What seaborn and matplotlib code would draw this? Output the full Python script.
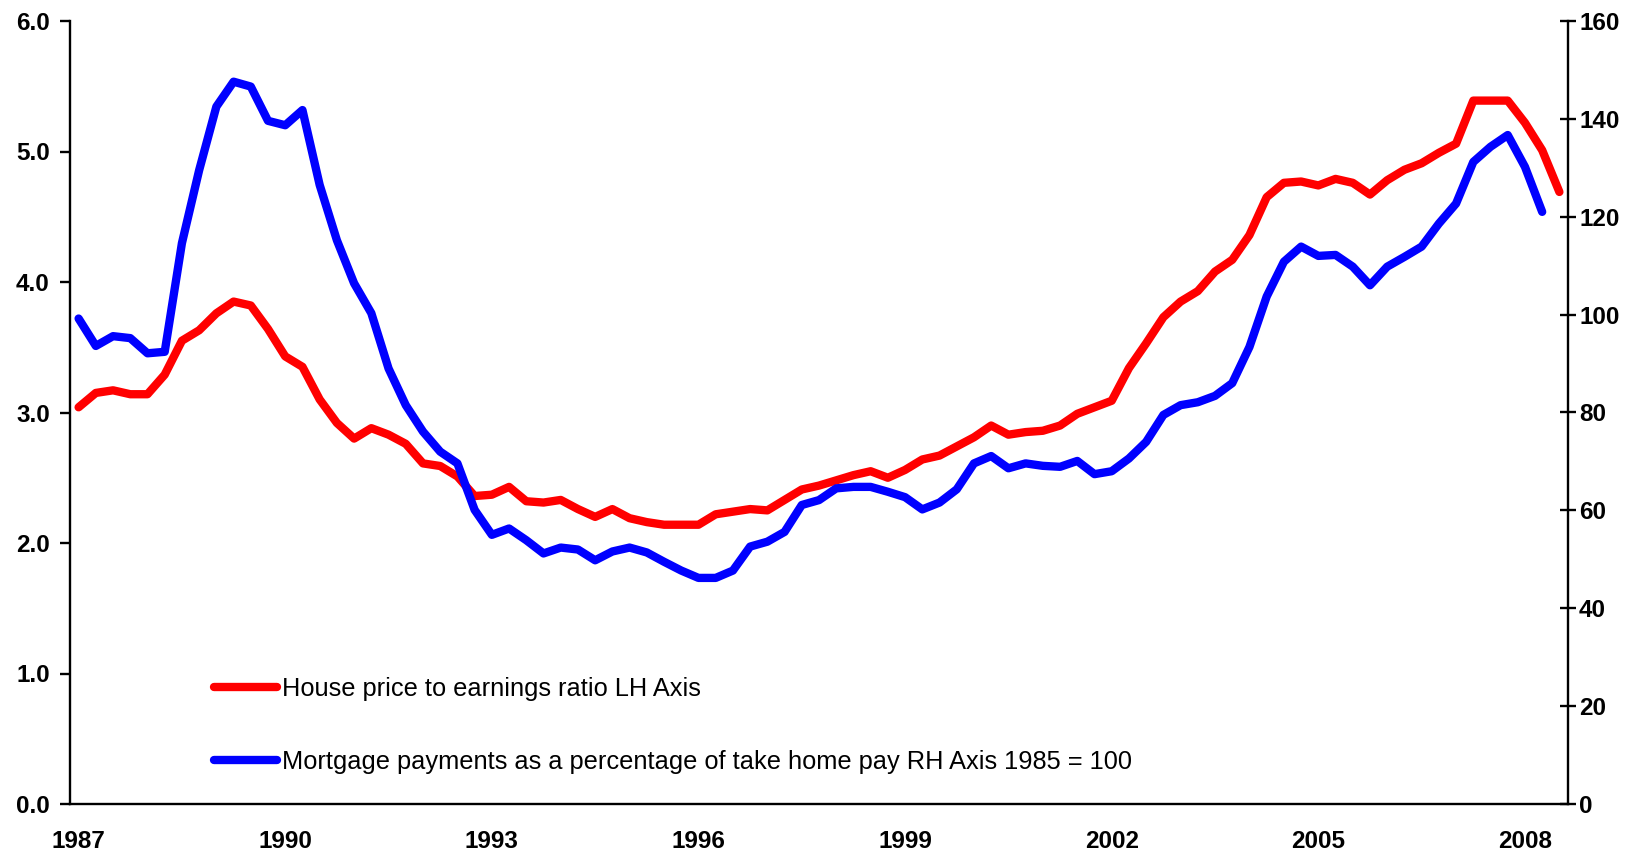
import matplotlib
matplotlib.use("Agg")
import matplotlib.pyplot as plt
import seaborn as sns
import pandas as pd
import numpy as np

# ---- data (quarterly, 1987 Q1 onwards) ----
house_price_ratio = [3.04, 3.15, 3.17, 3.14, 3.14, 3.29, 3.55, 3.63, 3.76, 3.85,
                     3.82, 3.64, 3.43, 3.35, 3.10, 2.92, 2.80, 2.88, 2.83, 2.76,
                     2.61, 2.59, 2.51, 2.36, 2.37, 2.43, 2.32, 2.31, 2.33, 2.26,
                     2.20, 2.26, 2.19, 2.16, 2.14, 2.14, 2.14, 2.22, 2.24, 2.26,
                     2.25, 2.33, 2.41, 2.44, 2.48, 2.52, 2.55, 2.50, 2.56, 2.64,
                     2.67, 2.74, 2.81, 2.90, 2.83, 2.85, 2.86, 2.90, 2.99, 3.04,
                     3.09, 3.34, 3.53, 3.73, 3.85, 3.93, 4.08, 4.17, 4.36, 4.65,
                     4.76, 4.77, 4.74, 4.79, 4.76, 4.67, 4.78, 4.86, 4.91, 4.99,
                     5.06, 5.39, 5.39, 5.39, 5.22, 5.01, 4.69]
mortgage_payments = [99.2, 93.6, 95.6, 95.2, 92.1, 92.4, 114.6, 129.5, 142.5, 147.6,
                     146.6, 139.6, 138.7, 141.8, 126.5, 115.2, 106.4, 100.3, 89.0, 81.5,
                     76.1, 72.0, 69.6, 60.1, 55.0, 56.3, 53.9, 51.2, 52.4, 52.0,
                     49.8, 51.6, 52.4, 51.4, 49.5, 47.7, 46.2, 46.2, 47.7, 52.6,
                     53.6, 55.6, 61.1, 62.1, 64.5, 64.8, 64.8, 63.8, 62.7, 60.2,
                     61.6, 64.3, 69.6, 71.1, 68.6, 69.6, 69.1, 68.9, 70.1, 67.4,
                     68.0, 70.6, 74.0, 79.5, 81.5, 82.1, 83.4, 86.0, 93.4, 103.7,
                     110.8, 113.9, 112.0, 112.2, 109.8, 106.0, 109.8, 111.8, 113.9, 118.6,
                     122.7, 131.2, 134.3, 136.7, 130.2, 121.0]
year_labels = ["1987", "1990", "1993", "1996", "1999", "2002", "2005", "2008"]
left_ticks = [0.0, 1.0, 2.0, 3.0, 4.0, 5.0, 6.0]
right_ticks = [0, 20, 40, 60, 80, 100, 120, 140, 160]
label_red = "House price to earnings ratio LH Axis"
label_blue = "Mortgage payments as a percentage of take home pay RH Axis 1985 = 100"

n_cat = len(house_price_ratio)
df_red = pd.DataFrame({"q": np.arange(len(house_price_ratio)), "v": house_price_ratio})
df_blue = pd.DataFrame({"q": np.arange(len(mortgage_payments)), "v": mortgage_payments})

sns.set_style("white")
plt.rcParams["font.family"] = ["Liberation Sans", "DejaVu Sans"]

fig = plt.figure(figsize=(16.39, 8.52), dpi=100)
ax = fig.add_axes([70 / 1639, 1 - 804 / 852, (1568 - 70) / 1639, (804 - 21) / 852])
ax2 = ax.twinx()

RED = "#FF0000"
BLUE = "#0000FF"
lw = 6.0
sns.lineplot(data=df_red, x="q", y="v", ax=ax, color=RED, linewidth=lw,
             solid_capstyle="round", solid_joinstyle="round", label=label_red, legend=False)
sns.lineplot(data=df_blue, x="q", y="v", ax=ax2, color=BLUE, linewidth=lw,
             solid_capstyle="round", solid_joinstyle="round", label=label_blue, legend=False)

ax.set_xlim(-0.5, n_cat - 0.5)
ax.set_ylim(0, 6.0)
ax2.set_ylim(0, 160)

ax.set_xlabel("")
ax.set_ylabel("")
ax2.set_ylabel("")

# spines
for a in (ax, ax2):
    a.spines["top"].set_visible(False)
    for s in ("left", "right", "bottom"):
        a.spines[s].set_linewidth(1.7)
        a.spines[s].set_color("black")
ax.spines["right"].set_visible(False)
ax2.spines["left"].set_visible(False)
ax2.spines["bottom"].set_visible(False)

TICK_FS = 17.5

# left axis ticks
ax.set_yticks(left_ticks)
ax.set_yticklabels([f"{v:.1f}" for v in left_ticks])
ax.tick_params(axis="y", direction="out", length=7.5, width=1.7, pad=7,
               labelsize=TICK_FS, colors="black")
for t in ax.get_yticklabels():
    t.set_fontweight("bold")

# right axis ticks
ax2.set_yticks(right_ticks)
ax2.set_yticklabels([str(v) for v in right_ticks])
ax2.tick_params(axis="y", direction="inout", length=12, width=1.7, pad=2,
                labelsize=TICK_FS, colors="black")
for t in ax2.get_yticklabels():
    t.set_fontweight("bold")

# x axis: quarterly boundary ticks, yearly labels every 3 years
ax.set_xticks(np.arange(0, n_cat, 12))
ax.set_xticklabels(year_labels)
ax.set_xticks(np.arange(-0.5, n_cat, 1.0), minor=True)
ax.tick_params(axis="x", which="major", length=0, pad=19, labelsize=TICK_FS, colors="black")
ax.tick_params(axis="x", which="minor", direction="out", length=6, width=1.7, colors="black")
for t in ax.get_xticklabels():
    t.set_fontweight("bold")

ax.grid(False)
ax2.grid(False)

# legend
h1, l1 = ax.get_legend_handles_labels()
h2, l2 = ax2.get_legend_handles_labels()
leg = fig.legend(h1 + h2, l1 + l2, loc="upper left",
                 bbox_to_anchor=(214 / 1639, 1 - 677 / 852),
                 bbox_transform=fig.transFigure, frameon=False,
                 fontsize=18.3, handlelength=2.48, handletextpad=0.2,
                 labelspacing=1.93, borderpad=0, borderaxespad=0)
for line in leg.get_lines():
    line.set_linewidth(lw)
    line.set_solid_capstyle("round")
for txt in leg.get_texts():
    txt.set_color("black")

fig.savefig("out.png", dpi=100, facecolor="white")
